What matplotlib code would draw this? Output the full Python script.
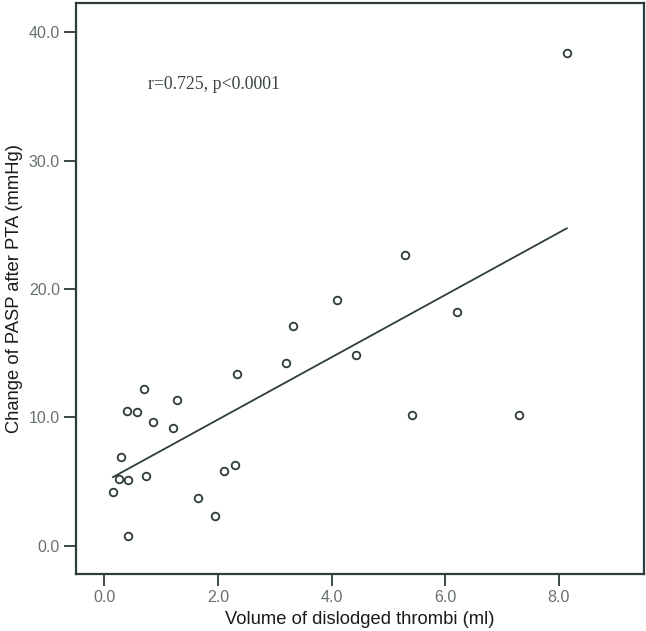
#!/usr/bin/env python3
"""
Scatter of PASP change after PTA vs. volume of dislodged thrombi,
with a least-squares fit line (SPSS-style look).
"""
import numpy as np
import matplotlib
matplotlib.use("Agg")
import matplotlib.pyplot as plt

# ---- data --------------------------------------------------------------
volume_ml = [0.15, 0.26, 0.30, 0.40, 0.41, 0.41, 0.58, 0.70, 0.74, 0.86,
             1.20, 1.28, 1.65, 1.94, 2.10, 2.30, 2.33, 3.20, 3.32, 4.10,
             4.43, 5.30, 5.41, 6.20, 7.30, 8.14]
pasp_change = [4.16, 5.22, 6.89, 10.52, 5.12, 0.76, 10.39, 12.20, 5.40, 9.63,
               9.19, 11.32, 3.69, 2.31, 5.82, 6.31, 13.35, 14.21, 17.14, 19.12,
               14.88, 22.63, 10.21, 18.20, 10.21, 38.36]

x_ticks = [0.0, 2.0, 4.0, 6.0, 8.0]
y_ticks = [0.0, 10.0, 20.0, 30.0, 40.0]
stat_text = "r=0.725, p<0.0001"

INK = "#2e3c3c"
TICK_TXT = "#687070"

x = np.asarray(volume_ml)
y = np.asarray(pasp_change)
slope, intercept = np.polyfit(x, y, 1)
fit_x = np.array([x.min(), x.max()])

fig = plt.figure(figsize=(6.46, 6.31), dpi=100)
ax = fig.add_axes([0.1176, 0.0903, 0.8793, 0.9045])

ax.plot(fit_x, slope * fit_x + intercept, color=INK, lw=1.3, zorder=2)
ax.scatter(x, y, s=30, facecolors="white", edgecolors=INK, linewidths=1.3, zorder=3)

ax.text(0.77, 35.9, stat_text, family="Liberation Serif", fontsize=12.8,
        color="#3a4444", va="center", ha="left")

ax.set_xlim(-0.5, 9.5)
ax.set_ylim(-2.2, 42.26)
ax.set_xticks(x_ticks)
ax.set_yticks(y_ticks)
ax.set_xticklabels([f"{v:.1f}" for v in x_ticks])
ax.set_yticklabels([f"{v:.1f}" for v in y_ticks])

for s in ax.spines.values():
    s.set_color(INK)
    s.set_linewidth(1.6)
ax.tick_params(direction="out", length=8.5, width=1.3, color=INK,
               labelcolor=TICK_TXT, labelsize=11.5, pad=3)
for lab in ax.get_xticklabels() + ax.get_yticklabels():
    lab.set_family("Liberation Sans")

ax.set_xlabel("Volume of dislodged thrombi (ml)", family="Liberation Sans",
              fontsize=13.2, color="#1a1a1a", labelpad=4)
ax.set_ylabel("Change of PASP after PTA (mmHg)", family="Liberation Sans",
              fontsize=13.2, color="#1a1a1a", labelpad=4)

fig.savefig("out.png", dpi=100, facecolor="white")
